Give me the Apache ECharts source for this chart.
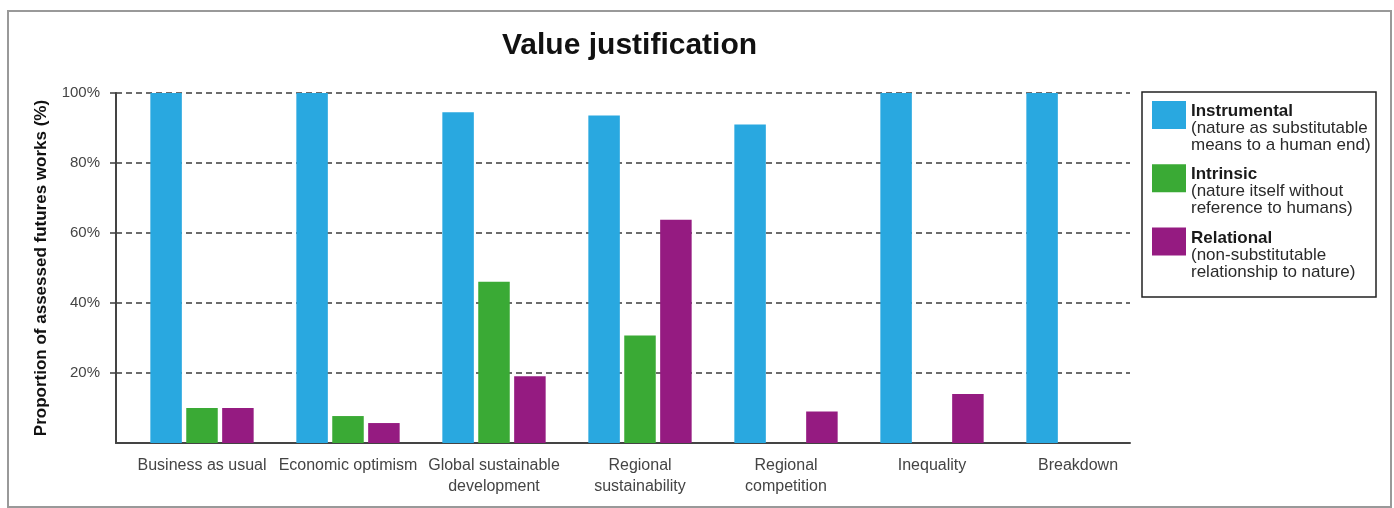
<!DOCTYPE html>
<html>
<head>
<meta charset="utf-8">
<script src="https://cdn.jsdelivr.net/npm/echarts@6/dist/echarts.min.js"></script>
<style>
  html, body { margin: 0; padding: 0; background: #fff; }
  #chart { width: 1394px; height: 508px; }
</style>
</head>
<body>
<div id="chart"></div>
<script>
const categories = [
  'Business as usual',
  'Economic optimism',
  'Global sustainable\ndevelopment',
  'Regional\nsustainability',
  'Regional\ncompetition',
  'Inequality',
  'Breakdown'
];
const instrumental = [100, 100, 94.5, 93.6, 91, 100, 100];
const intrinsic    = [10, 7.7, 46.1, 30.7, 0, 0, 0];
const relational   = [10, 5.7, 19.1, 63.8, 9, 14, 0];
const yTickLabels  = [20, 40, 60, 80, 100];

const seriesNames = ['Instrumental', 'Intrinsic', 'Relational'];
const seriesDescs = {
  'Instrumental': ['(nature as substitutable', 'means to a human end)'],
  'Intrinsic': ['(nature itself without', 'reference to humans)'],
  'Relational': ['(non-substitutable', 'relationship to nature)']
};
const colors = ['#29a8e0', '#3aaa35', '#951b81'];

const FONT = '"Liberation Sans", Arial, Helvetica, sans-serif';
const chart = echarts.init(document.getElementById('chart'), null, { renderer: 'canvas' });

const dashed = { color: '#3c3c3c', width: 1.5, type: [6, 4] };

chart.setOption({
  animation: false,
  textStyle: { fontFamily: FONT },
  title: {
    text: 'Value justification',
    left: 502,
    top: 31,
    padding: 0,
    textStyle: { fontFamily: FONT, fontSize: 30, fontWeight: 'bold', color: '#111' }
  },
  grid: [
    { left: 129, right: 243, top: 93, bottom: 65 },   // bars
    { left: 116, right: 264, top: 93, bottom: 65 }    // axes frame
  ],
  xAxis: [
    {
      type: 'category', gridIndex: 0, data: categories,
      axisLine: { show: false }, axisTick: { show: false },
      axisLabel: { fontFamily: FONT, fontSize: 16, color: '#444', lineHeight: 21, margin: 12, interval: 0 }
    },
    {
      type: 'category', gridIndex: 1, data: categories,
      axisLine: { show: true, lineStyle: { color: '#444', width: 2 } },
      axisTick: { show: false }, axisLabel: { show: false }
    }
  ],
  yAxis: [
    { type: 'value', gridIndex: 0, min: 0, max: 100, interval: 20, show: false, splitLine: { show: false } },
    {
      type: 'value', gridIndex: 1, min: 0, max: 100, interval: 20,
      name: 'Proportion of assessed futures works (%)',
      nameLocation: 'middle', nameGap: 66,
      nameTextStyle: { fontFamily: FONT, fontSize: 17, fontWeight: 'bold', color: '#111' },
      axisLine: { show: true, lineStyle: { color: '#444', width: 2 } },
      axisTick: { show: true, length: 10, lineStyle: dashed, customValues: yTickLabels },
      axisLabel: {
        fontFamily: FONT, fontSize: 15, color: '#444', margin: 16,
        formatter: v => (yTickLabels.indexOf(v) >= 0 ? v + '%' : '')
      },
      splitLine: { show: true, lineStyle: dashed }
    }
  ],
  legend: {
    orient: 'vertical',
    left: 1152,
    top: 76,
    padding: 0,
    itemGap: -14.8,
    itemWidth: 34,
    itemHeight: 28,
    selectedMode: false,
    icon: 'rect',
    data: seriesNames,
    formatter: name => '{b|' + name + '}\n{s|' + seriesDescs[name][0] + '}\n{s|' + seriesDescs[name][1] + '}',
    textStyle: {
      padding: [27, 0, 0, 0],
      lineHeight: 17,
      rich: {
        b: { fontFamily: FONT, fontSize: 17, fontWeight: 'bold', color: '#1a1a1a', lineHeight: 17 },
        s: { fontFamily: FONT, fontSize: 17, color: '#2a2a2a', lineHeight: 17 }
      }
    }
  },
  graphic: [
    { type: 'rect', shape: { x: 8, y: 11, width: 1383, height: 496 }, style: { fill: 'none', stroke: '#999', lineWidth: 2 }, silent: true, z: -1 },
    { type: 'rect', shape: { x: 1142, y: 92, width: 234, height: 205 }, style: { fill: 'none', stroke: '#222', lineWidth: 1.5 }, silent: true, z: -1 }
  ],
  series: [
    { name: seriesNames[0], type: 'bar', xAxisIndex: 0, yAxisIndex: 0, data: instrumental, barWidth: 31.5, barGap: '14%', itemStyle: { color: colors[0] } },
    { name: seriesNames[1], type: 'bar', xAxisIndex: 0, yAxisIndex: 0, data: intrinsic, barWidth: 31.5, barGap: '14%', itemStyle: { color: colors[1] } },
    { name: seriesNames[2], type: 'bar', xAxisIndex: 0, yAxisIndex: 0, data: relational, barWidth: 31.5, barGap: '14%', itemStyle: { color: colors[2] } }
  ]
});
</script>
</body>
</html>
